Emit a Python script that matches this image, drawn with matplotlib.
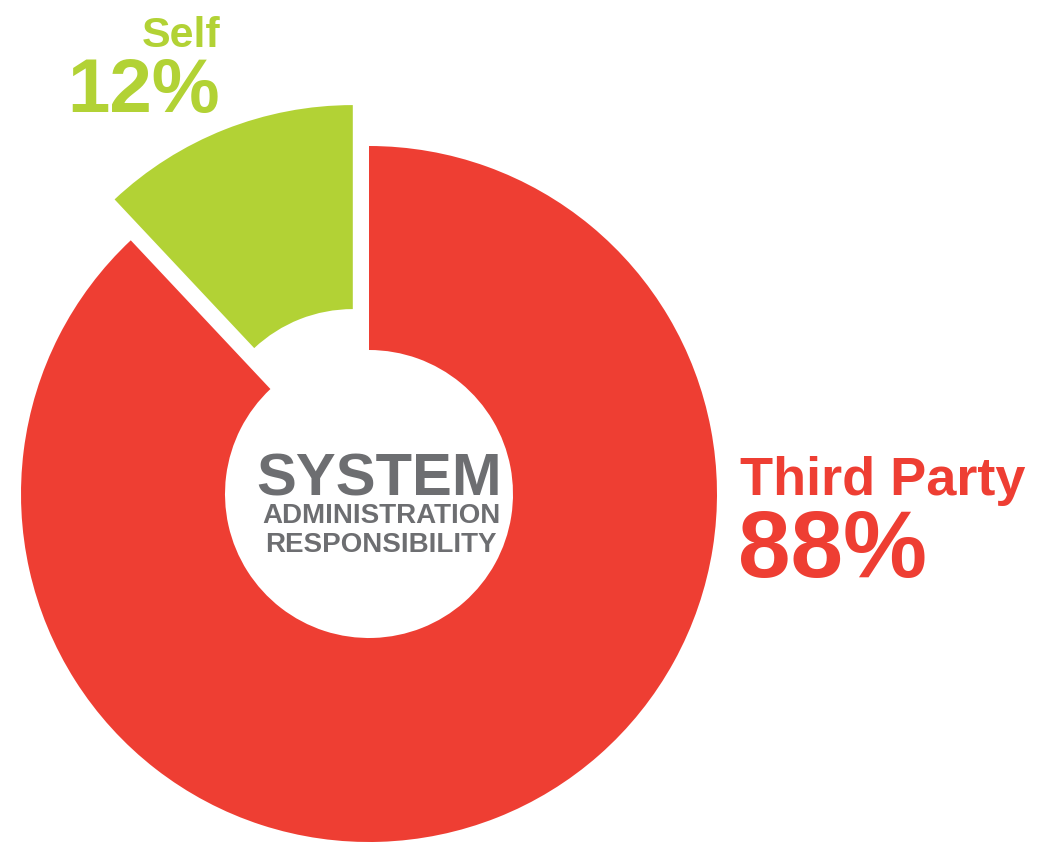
import matplotlib.pyplot as plt

labels = ["Self", "Third Party"]
shares = [12, 88]
colors = ["#b2d235", "#ee3e33"]
pct_text = ["12%", "88%"]
center_title = "SYSTEM"
center_sub = ["ADMINISTRATION", "RESPONSIBILITY"]

font = ["Liberation Sans", "DejaVu Sans"]
grey = "#6d6e71"

fig = plt.figure(figsize=(10.49, 8.43), dpi=100)
ax = fig.add_axes([0, 0, 1, 1])
ax.set_xlim(0, 1049)
ax.set_ylim(0, 843)
ax.set_aspect("equal")
ax.axis("off")

# donut, Self slice pulled out to the upper left
ax.pie(shares, colors=colors, startangle=90, counterclock=True,
       center=(369, 349), radius=348, explode=[44, 0],
       wedgeprops=dict(width=204, linewidth=0))
ax.set_xlim(0, 1049)
ax.set_ylim(0, 843)

# centre label
ax.text(379, 348, center_title, ha="center", va="baseline", color=grey,
        fontsize=43, fontweight="bold", family=font)
ax.text(381, 320, center_sub[0], ha="center", va="baseline", color=grey,
        fontsize=20, fontweight="bold", family=font)
ax.text(381, 291, center_sub[1], ha="center", va="baseline", color=grey,
        fontsize=20, fontweight="bold", family=font)

# slice labels
ax.text(220, 796, labels[0], ha="right", va="baseline", color=colors[0],
        fontsize=31, fontweight="bold", family=font)
ax.text(220, 731, pct_text[0], ha="right", va="baseline", color=colors[0],
        fontsize=55, fontweight="bold", family=font)
ax.text(740, 348, labels[1], ha="left", va="baseline", color=colors[1],
        fontsize=39, fontweight="bold", family=font)
ax.text(738, 266, pct_text[1], ha="left", va="baseline", color=colors[1],
        fontsize=68, fontweight="bold", family=font)

fig.savefig("out.png", dpi=100, facecolor="white")
